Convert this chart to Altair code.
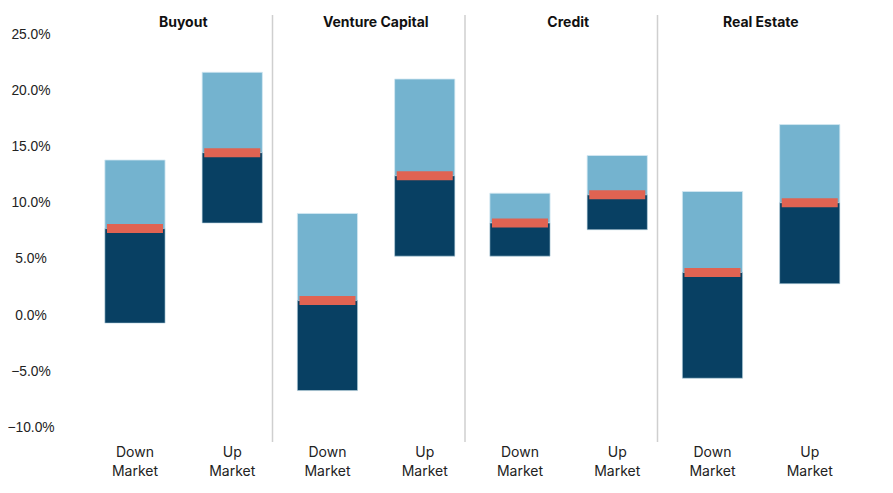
import altair as alt
import pandas as pd

categories = ["Buyout", "Venture Capital", "Credit", "Real Estate"]
markets = ["Down Market", "Up Market"]
market_labels = ["Down\nMarket", "Up\nMarket"]

# values in percent, ordered (category, market)
low = [-0.7, 8.2, -6.7, 5.25, 5.25, 7.6, -5.6, 2.8]
median = [7.7, 14.45, 1.3, 12.4, 8.2, 10.7, 3.8, 10.0]
high = [13.8, 21.6, 9.05, 21.0, 10.85, 14.2, 11.0, 16.95]

rows = []
i = 0
for c in categories:
    for m, ml in zip(markets, market_labels):
        rows.append({
            "category": c, "market": m, "label": ml,
            "low": low[i] / 100, "median": median[i] / 100, "high": high[i] / 100,
        })
        i += 1
df = pd.DataFrame(rows)
cat_df = pd.DataFrame({"category": categories})
sep_df = pd.DataFrame({"category": categories[1:]})

W, H = 770, 427
xscale = alt.Scale(domain=categories, paddingInner=0, paddingOuter=0)
xoff = alt.XOffset("market:N", scale=alt.Scale(domain=markets, paddingInner=0.381,
                                                paddingOuter=0.18, align=0.71))
X = alt.X("category:N", scale=xscale, axis=None)
Y = alt.Y("low:Q", scale=alt.Scale(domain=[-0.1127, 0.2669], nice=False, zero=False),
          axis=alt.Axis(format=".1%", values=[-0.10, -0.05, 0, 0.05, 0.10, 0.15, 0.20, 0.25],
                        grid=False, ticks=False, domain=False, labelFont="Liberation Sans",
                        labelFontSize=13.8, labelColor="#222222", labelPadding=49.5,
                        labelAlign="center"),
          title=None)

base = alt.Chart(df)

dark = base.mark_bar(color="#084063", stroke="#b9d3e0", strokeWidth=0.6).encode(
    x=X, xOffset=xoff, y=Y, y2="median:Q")
light = base.mark_bar(color="#74B3CF", stroke="#d4e9f3", strokeWidth=0.8).encode(
    x=X, xOffset=xoff, y=alt.Y("median:Q"), y2="high:Q")
med = base.mark_tick(color="#E06352", thickness=9, size=56, opacity=1).encode(
    x=X, xOffset=xoff, y=alt.Y("median:Q"))
bottom = base.mark_text(font="Inter", fontSize=14, color="#222222", lineBreak="\n",
                        lineHeight=18.7, baseline="middle", align="center").encode(
    x=X, xOffset=xoff, y=alt.value(H + 11), text="label:N")

seps = alt.Chart(sep_df).mark_rule(color="#cfcfcf", strokeWidth=1.5).encode(
    x=alt.X("category:N", scale=xscale, axis=None, bandPosition=0),
    y=alt.value(0), y2=alt.value(H))
titles = alt.Chart(cat_df).mark_text(font="Inter", fontSize=14, fontWeight="bold",
                                     color="#111111", baseline="middle", dx=7).encode(
    x=alt.X("category:N", scale=xscale, axis=None), y=alt.value(8), text="category:N")

chart = alt.layer(seps, light, dark, med, titles, bottom).properties(
    width=W, height=H,
    autosize=alt.AutoSizeParams(type="none"),
    padding={"left": 72, "top": 7, "right": 10, "bottom": 50},
    background="white",
).configure_view(strokeWidth=0)

chart.save("out.html", embed_options={"renderer": "svg", "actions": False})
